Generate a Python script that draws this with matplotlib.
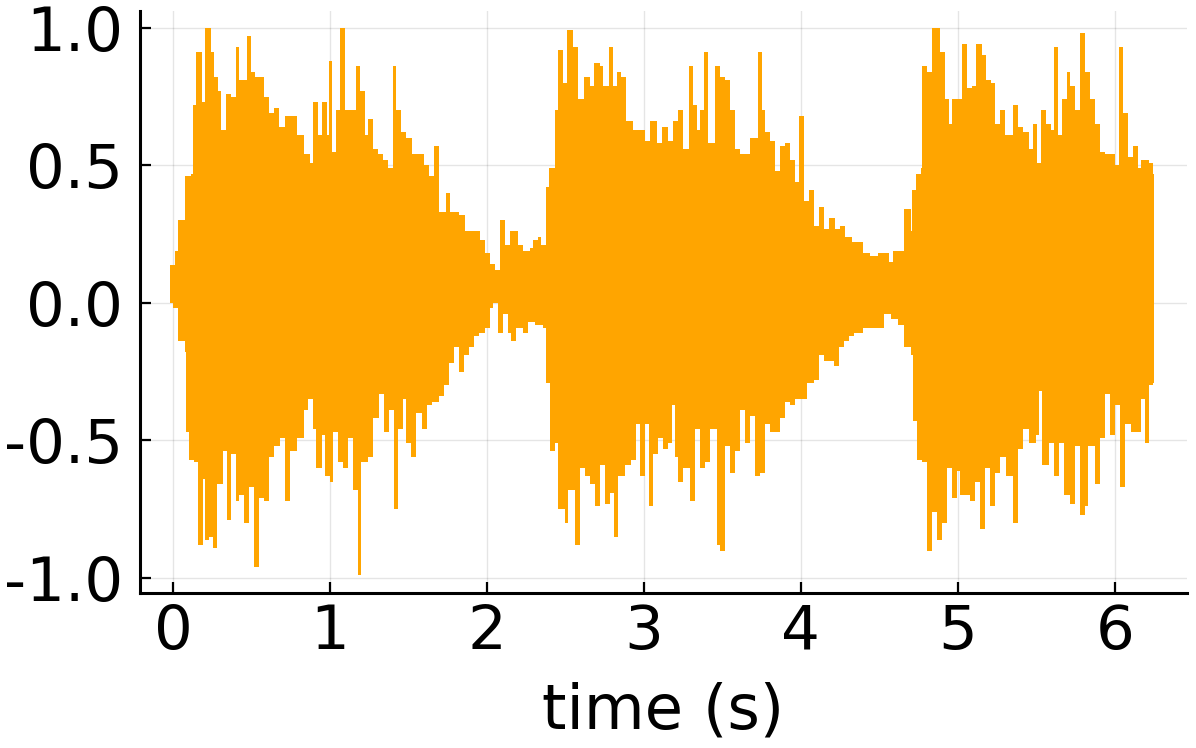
import matplotlib
matplotlib.use("Agg")
import matplotlib.pyplot as plt
import numpy as np

# envelope of the waveform (time in s, amplitude)
t_upper = [-0.021, 0.011, 0.032, 0.074, 0.116, 0.126, 0.147, 0.179, 0.183, 0.204,
           0.242, 0.259, 0.288, 0.305, 0.337, 0.368, 0.400, 0.421, 0.469, 0.495,
           0.526, 0.579, 0.611, 0.642, 0.674, 0.716, 0.747, 0.789, 0.832, 0.874,
           0.895, 0.926, 0.947, 0.979, 0.994, 1.011, 1.042, 1.063, 1.095, 1.147,
           1.168, 1.189, 1.221, 1.242, 1.274, 1.305, 1.337, 1.368, 1.404, 1.421,
           1.453, 1.484, 1.526, 1.568, 1.600, 1.632, 1.663, 1.695, 1.737, 1.768,
           1.821, 1.863, 1.916, 1.958, 1.989, 2.021, 2.053, 2.081, 2.113, 2.145,
           2.166, 2.198, 2.230, 2.272, 2.294, 2.326, 2.347, 2.368, 2.379, 2.394,
           2.432, 2.453, 2.485, 2.513, 2.549, 2.581, 2.619, 2.655, 2.683, 2.719,
           2.740, 2.777, 2.804, 2.826, 2.857, 2.889, 2.932, 2.964, 3.006, 3.038,
           3.081, 3.113, 3.155, 3.187, 3.219, 3.251, 3.287, 3.315, 3.336, 3.357,
           3.381, 3.411, 3.453, 3.485, 3.517, 3.549, 3.581, 3.613, 3.645, 3.677,
           3.698, 3.726, 3.751, 3.772, 3.804, 3.836, 3.868, 3.900, 3.932, 3.964,
           3.989, 4.017, 4.049, 4.081, 4.113, 4.145, 4.177, 4.219, 4.251, 4.283,
           4.326, 4.354, 4.396, 4.438, 4.491, 4.543, 4.564, 4.585, 4.637, 4.658,
           4.700, 4.711, 4.732, 4.763, 4.774, 4.805, 4.836, 4.868, 4.889, 4.920,
           4.941, 4.962, 4.994, 5.025, 5.057, 5.088, 5.115, 5.151, 5.182, 5.214,
           5.235, 5.266, 5.298, 5.329, 5.354, 5.382, 5.413, 5.455, 5.476, 5.507,
           5.528, 5.560, 5.591, 5.612, 5.639, 5.665, 5.696, 5.717, 5.748, 5.780,
           5.811, 5.843, 5.874, 5.906, 5.937, 5.979, 6.000, 6.025, 6.052, 6.084,
           6.115, 6.147, 6.168, 6.220, 6.241, 6.250]
upper = [0.137, 0.19, 0.30, 0.46, 0.47, 0.72, 0.91, 0.91, 0.73, 1.0,
         0.91, 0.82, 0.77, 0.63, 0.76, 0.75, 0.93, 0.81, 0.97, 0.84,
         0.82, 0.75, 0.69, 0.71, 0.64, 0.68, 0.68, 0.61, 0.54, 0.51,
         0.73, 0.61, 0.73, 0.61, 0.88, 0.55, 0.70, 1.0, 0.70, 0.70,
         0.86, 0.77, 0.61, 0.67, 0.56, 0.54, 0.52, 0.49, 0.86, 0.70,
         0.62, 0.60, 0.54, 0.54, 0.50, 0.46, 0.57, 0.33, 0.40, 0.33,
         0.32, 0.26, 0.26, 0.23, 0.18, 0.14, 0.12, 0.30, 0.21, 0.26,
         0.26, 0.21, 0.19, 0.20, 0.23, 0.24, 0.21, 0.21, 0.42, 0.49,
         0.70, 0.92, 0.80, 0.99, 0.93, 0.74, 0.82, 0.79, 0.87, 0.86,
         0.79, 0.93, 0.79, 0.84, 0.82, 0.66, 0.63, 0.63, 0.59, 0.66,
         0.58, 0.64, 0.59, 0.66, 0.70, 0.56, 0.86, 0.72, 0.63, 0.70,
         0.91, 0.58, 0.86, 0.82, 0.81, 0.70, 0.56, 0.54, 0.54, 0.60,
         0.60, 0.91, 0.70, 0.62, 0.59, 0.48, 0.57, 0.58, 0.52, 0.44,
         0.68, 0.37, 0.41, 0.28, 0.35, 0.27, 0.31, 0.27, 0.28, 0.24,
         0.22, 0.22, 0.18, 0.17, 0.18, 0.18, 0.15, 0.19, 0.19, 0.34,
         0.26, 0.41, 0.47, 0.49, 0.86, 0.84, 1.0, 1.0, 0.91, 0.74,
         0.65, 0.74, 0.74, 0.94, 0.78, 0.79, 0.94, 0.90, 0.81, 0.80,
         0.65, 0.70, 0.61, 0.61, 0.72, 0.64, 0.62, 0.56, 0.65, 0.51,
         0.70, 0.65, 0.63, 0.93, 0.61, 0.74, 0.84, 0.79, 0.70, 0.98,
         0.84, 0.74, 0.65, 0.55, 0.54, 0.54, 0.50, 0.93, 0.69, 0.53,
         0.57, 0.49, 0.52, 0.51, 0.47, 0.47]

t_lower = [-0.021, 0.000, 0.032, 0.074, 0.084, 0.105, 0.137, 0.158, 0.189, 0.204,
           0.227, 0.253, 0.284, 0.316, 0.343, 0.368, 0.400, 0.421, 0.453, 0.484,
           0.516, 0.547, 0.579, 0.611, 0.642, 0.684, 0.716, 0.747, 0.789, 0.832,
           0.863, 0.895, 0.909, 0.947, 0.968, 1.000, 1.021, 1.053, 1.084, 1.116,
           1.147, 1.179, 1.200, 1.242, 1.274, 1.316, 1.347, 1.379, 1.411, 1.432,
           1.463, 1.484, 1.516, 1.547, 1.589, 1.621, 1.653, 1.695, 1.726, 1.758,
           1.789, 1.821, 1.853, 1.884, 1.916, 1.947, 1.989, 2.021, 2.042, 2.070,
           2.102, 2.134, 2.155, 2.187, 2.230, 2.262, 2.304, 2.357, 2.379, 2.400,
           2.432, 2.453, 2.496, 2.517, 2.560, 2.591, 2.623, 2.655, 2.687, 2.719,
           2.751, 2.783, 2.811, 2.836, 2.879, 2.921, 2.953, 2.974, 3.006, 3.032,
           3.060, 3.091, 3.123, 3.155, 3.177, 3.198, 3.219, 3.251, 3.294, 3.326,
           3.357, 3.389, 3.421, 3.464, 3.485, 3.517, 3.549, 3.581, 3.613, 3.645,
           3.677, 3.709, 3.740, 3.772, 3.804, 3.836, 3.868, 3.900, 3.932, 3.964,
           4.006, 4.038, 4.081, 4.113, 4.145, 4.177, 4.209, 4.240, 4.272, 4.304,
           4.336, 4.396, 4.449, 4.522, 4.532, 4.574, 4.616, 4.658, 4.700, 4.717,
           4.742, 4.774, 4.805, 4.836, 4.868, 4.899, 4.931, 4.962, 4.994, 5.015,
           5.046, 5.078, 5.109, 5.140, 5.172, 5.203, 5.235, 5.266, 5.308, 5.350,
           5.382, 5.413, 5.455, 5.497, 5.514, 5.539, 5.581, 5.612, 5.644, 5.675,
           5.717, 5.748, 5.780, 5.811, 5.832, 5.874, 5.906, 5.937, 5.969, 6.000,
           6.031, 6.063, 6.105, 6.136, 6.168, 6.195, 6.220, 6.241, 6.250]
lower = [0.03, -0.02, -0.14, -0.18, -0.47, -0.57, -0.58, -0.88, -0.64, -0.86,
         -0.85, -0.89, -0.66, -0.54, -0.79, -0.55, -0.72, -0.70, -0.80, -0.67,
         -0.96, -0.71, -0.72, -0.56, -0.52, -0.49, -0.72, -0.54, -0.49, -0.39,
         -0.35, -0.46, -0.60, -0.48, -0.63, -0.65, -0.47, -0.58, -0.60, -0.49,
         -0.68, -0.99, -0.58, -0.56, -0.42, -0.33, -0.47, -0.39, -0.75, -0.46,
         -0.35, -0.51, -0.56, -0.40, -0.46, -0.37, -0.36, -0.34, -0.30, -0.22,
         -0.16, -0.25, -0.19, -0.16, -0.12, -0.11, -0.09, -0.02, 0.0, -0.11,
         -0.04, -0.11, -0.14, -0.09, -0.11, -0.07, -0.08, -0.09, -0.29, -0.54,
         -0.51, -0.75, -0.80, -0.68, -0.88, -0.60, -0.63, -0.66, -0.74, -0.59,
         -0.73, -0.69, -0.85, -0.63, -0.59, -0.57, -0.44, -0.63, -0.44, -0.74,
         -0.55, -0.49, -0.53, -0.51, -0.37, -0.56, -0.65, -0.60, -0.72, -0.46,
         -0.60, -0.58, -0.46, -0.88, -0.90, -0.52, -0.62, -0.54, -0.39, -0.51,
         -0.41, -0.63, -0.62, -0.44, -0.47, -0.47, -0.42, -0.36, -0.37, -0.35,
         -0.35, -0.29, -0.28, -0.19, -0.21, -0.21, -0.23, -0.16, -0.14, -0.12,
         -0.11, -0.09, -0.09, -0.09, -0.04, -0.06, -0.08, -0.16, -0.19, -0.43,
         -0.57, -0.58, -0.90, -0.76, -0.86, -0.80, -0.60, -0.71, -0.61, -0.70,
         -0.70, -0.72, -0.65, -0.82, -0.60, -0.74, -0.62, -0.56, -0.63, -0.80,
         -0.53, -0.46, -0.51, -0.48, -0.32, -0.59, -0.51, -0.63, -0.51, -0.70,
         -0.73, -0.52, -0.77, -0.74, -0.52, -0.66, -0.49, -0.33, -0.48, -0.37,
         -0.67, -0.44, -0.47, -0.47, -0.35, -0.51, -0.30, -0.29, -0.29]

x_ticks = [0, 1, 2, 3, 4, 5, 6]
y_ticks = [-1.0, -0.5, 0.0, 0.5, 1.0]
y_tick_labels = ["-1.0", "-0.5", "0.0", "0.5", "1.0"]

plt.rcParams["font.family"] = ["DejaVu Sans"]
plt.rcParams["axes.unicode_minus"] = False

fig = plt.figure(figsize=(11.96, 7.48), dpi=100)
ax = fig.add_axes([0.117, 0.207, 0.8755, 0.778])

color = "#FFA500"
ax.fill_between(t_upper, 0, upper, step="post", color=color, linewidth=0)
ax.fill_between(t_lower, lower, 0, step="post", color=color, linewidth=0)

ax.set_xlim(-0.21, 6.46)
ax.set_ylim(-1.055, 1.06)
ax.set_xticks(x_ticks)
ax.set_yticks(y_ticks)
ax.set_yticklabels(y_tick_labels)

ax.grid(True, color="black", alpha=0.1, linewidth=1.0)
ax.set_axisbelow(True)

for side in ["top", "right"]:
    ax.spines[side].set_visible(False)
for side in ["left", "bottom"]:
    ax.spines[side].set_linewidth(2.2)

ax.tick_params(direction="in", length=8, width=1.6, labelsize=44)
ax.tick_params(axis="x", pad=7)
ax.tick_params(axis="y", pad=12)
ax.set_xlabel("time (s)", fontsize=45, labelpad=14)

fig.savefig("out.png", dpi=100)
